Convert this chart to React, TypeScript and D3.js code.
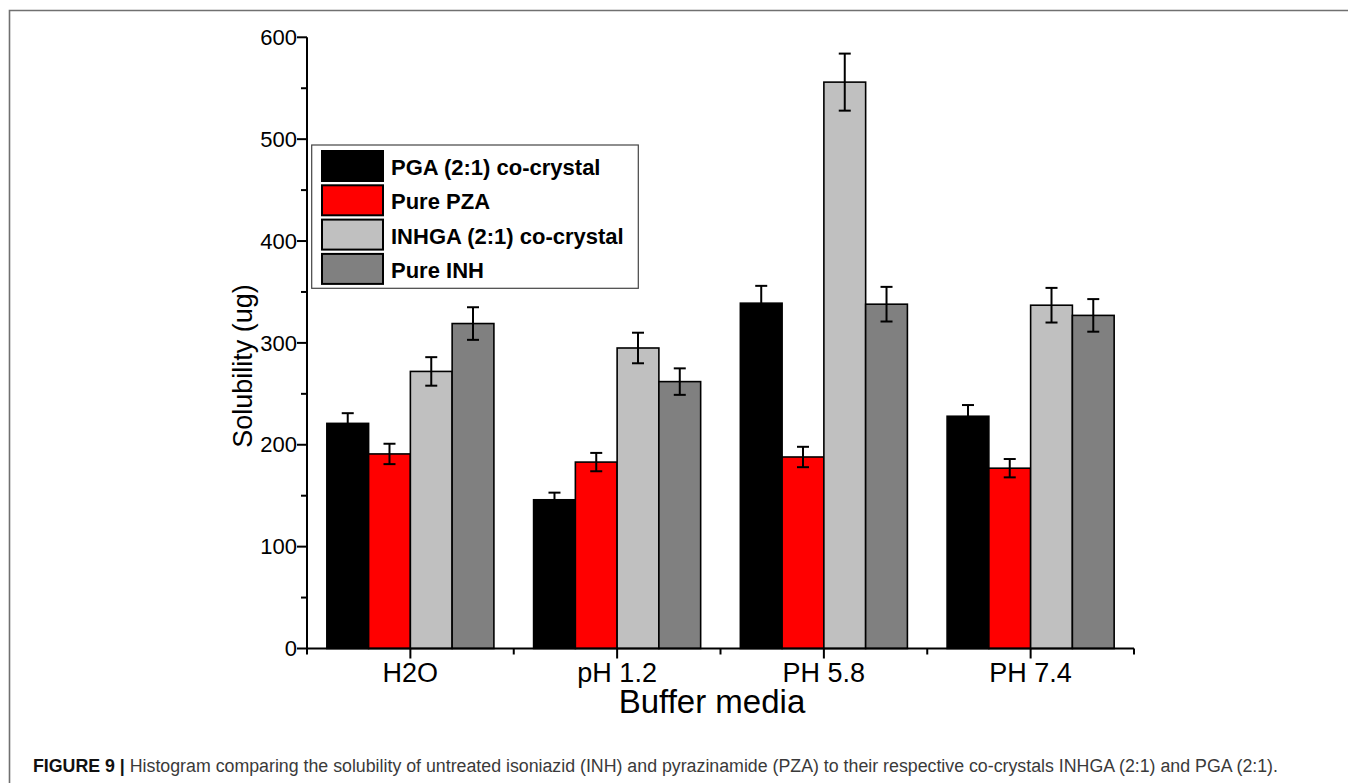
import React from "react";
import * as d3 from "d3";

// Buffer media on the x axis
const categories = ["H2O", "pH 1.2", "PH 5.8", "PH 7.4"];

// Series (legend order)
const seriesNames = [
  "PGA (2:1) co-crystal",
  "Pure PZA",
  "INHGA (2:1) co-crystal",
  "Pure INH",
];
const seriesColors = ["#000000", "#ff0000", "#c0c0c0", "#808080"];

// Solubility (ug) and standard errors per buffer
const pgaValues = [221, 146, 339, 228];
const pgaErrors = [10, 7, 17, 11];
const pzaValues = [191, 183, 188, 177];
const pzaErrors = [10, 9, 10, 9];
const inhgaValues = [272, 295, 556, 337];
const inhgaErrors = [14, 15, 28, 17];
const inhValues = [319, 262, 338, 327];
const inhErrors = [16, 13, 17, 16];

const yMajorTicks = [0, 100, 200, 300, 400, 500, 600];

const W = 1348;
const H = 783;
const FONT = "'Liberation Sans', Arial, Helvetica, sans-serif";

export default function App() {
  const values = [pgaValues, pzaValues, inhgaValues, inhValues];
  const errors = [pgaErrors, pzaErrors, inhgaErrors, inhErrors];

  const x0 = d3
    .scaleBand<string>()
    .domain(categories)
    .range([307, 1134])
    .paddingInner(0.192)
    .paddingOuter(0.096);
  const x1 = d3
    .scaleBand<number>()
    .domain(d3.range(seriesNames.length))
    .range([0, x0.bandwidth()]);
  const y = d3.scaleLinear().domain([0, 600]).range([648.5, 37.3]);

  const xLeft = x0.range()[0];
  const xRight = x0.range()[1];
  const y0 = y(0);

  const yMinor = d3.range(50, 600, 100);
  const step = x0.step();
  const xMinor = [
    xLeft,
    ...categories.slice(0, -1).map((c) => x0(c)! + x0.bandwidth() / 2 + step / 2),
    xRight,
  ];

  const capHalf = 6;

  return (
    <div style={{ position: "absolute", left: 0, top: 0 }}>
      <svg width={W} height={H} style={{ display: "block", background: "#fff" }}>
        {/* figure frame */}
        <path d={`M9.5,${H} V10.5 H${W}`} fill="none" stroke="#707070" strokeWidth={1.6} />

        {/* bars */}
        {categories.map((cat, ci) => (
          <g key={cat} transform={`translate(${x0(cat)},0)`}>
            {values.map((vals, si) => (
              <rect
                key={si}
                x={x1(si)}
                y={y(vals[ci])}
                width={x1.bandwidth()}
                height={y0 - y(vals[ci])}
                fill={seriesColors[si]}
                stroke="#000"
                strokeWidth={1.6}
              />
            ))}
            {values.map((vals, si) => {
              const cx = x1(si)! + x1.bandwidth() / 2;
              const top = y(vals[ci] + errors[si][ci]);
              const bot = y(vals[ci] - errors[si][ci]);
              return (
                <g key={"e" + si} stroke="#000" strokeWidth={2}>
                  <line x1={cx} x2={cx} y1={top} y2={bot} />
                  <line x1={cx - capHalf} x2={cx + capHalf} y1={top} y2={top} />
                  <line x1={cx - capHalf} x2={cx + capHalf} y1={bot} y2={bot} />
                </g>
              );
            })}
          </g>
        ))}

        {/* y axis */}
        <g stroke="#000" strokeWidth={2}>
          <line x1={xLeft} x2={xLeft} y1={y(600)} y2={y0} />
          {yMajorTicks.map((t) => (
            <line key={t} x1={xLeft - 10} x2={xLeft} y1={y(t)} y2={y(t)} />
          ))}
          {yMinor.map((t) => (
            <line key={t} x1={xLeft - 6} x2={xLeft} y1={y(t)} y2={y(t)} />
          ))}
        </g>
        {yMajorTicks.map((t) => (
          <text
            key={t}
            x={xLeft - 10}
            y={y(t)}
            dy="0.35em"
            textAnchor="end"
            fontFamily={FONT}
            fontSize={22}
            fill="#000"
          >
            {t}
          </text>
        ))}
        <text
          transform={`translate(252,366) rotate(-90)`}
          textAnchor="middle"
          fontFamily={FONT}
          fontSize={27}
          fill="#000"
        >
          Solubility (ug)
        </text>

        {/* x axis */}
        <g stroke="#000" strokeWidth={2}>
          <line x1={xLeft - 1} x2={xRight} y1={y0} y2={y0} />
          {categories.map((c) => {
            const cx = x0(c)! + x0.bandwidth() / 2;
            return <line key={c} x1={cx} x2={cx} y1={y0} y2={y0 + 10} />;
          })}
          {xMinor.map((mx, i) => (
            <line key={i} x1={mx} x2={mx} y1={y0} y2={y0 + 6} />
          ))}
        </g>
        {categories.map((c) => (
          <text
            key={c}
            x={x0(c)! + x0.bandwidth() / 2}
            y={682}
            textAnchor="middle"
            fontFamily={FONT}
            fontSize={27}
            fill="#000"
          >
            {c}
          </text>
        ))}
        <text x={712} y={713} textAnchor="middle" fontFamily={FONT} fontSize={33} fill="#000">
          Buffer media
        </text>

        {/* legend */}
        <rect x={311.7} y={145} width={326.6} height={143.3} fill="#fff" stroke="#444" strokeWidth={1.2} />
        {seriesNames.map((name, i) => (
          <g key={name} transform={`translate(0,${i * 34.3})`}>
            <rect x={322} y={151} width={61} height={30} fill={seriesColors[i]} stroke="#000" strokeWidth={2} />
            <text x={391} y={175} fontFamily={FONT} fontSize={22} fontWeight="bold" fill="#000">
              {name}
            </text>
          </g>
        ))}

        {/* caption */}
        <text
          x={33}
          y={772}
          fontFamily={FONT}
          fontSize={18}
          fill="#3a3a3a"
          textLength={1245}
          lengthAdjust="spacingAndGlyphs"
        >
          <tspan fontWeight="bold" fill="#111">FIGURE 9 |</tspan>
          <tspan> Histogram comparing the solubility of untreated isoniazid (INH) and pyrazinamide (PZA) to their respective co-crystals INHGA (2:1) and PGA (2:1).</tspan>
        </text>
      </svg>
    </div>
  );
}
